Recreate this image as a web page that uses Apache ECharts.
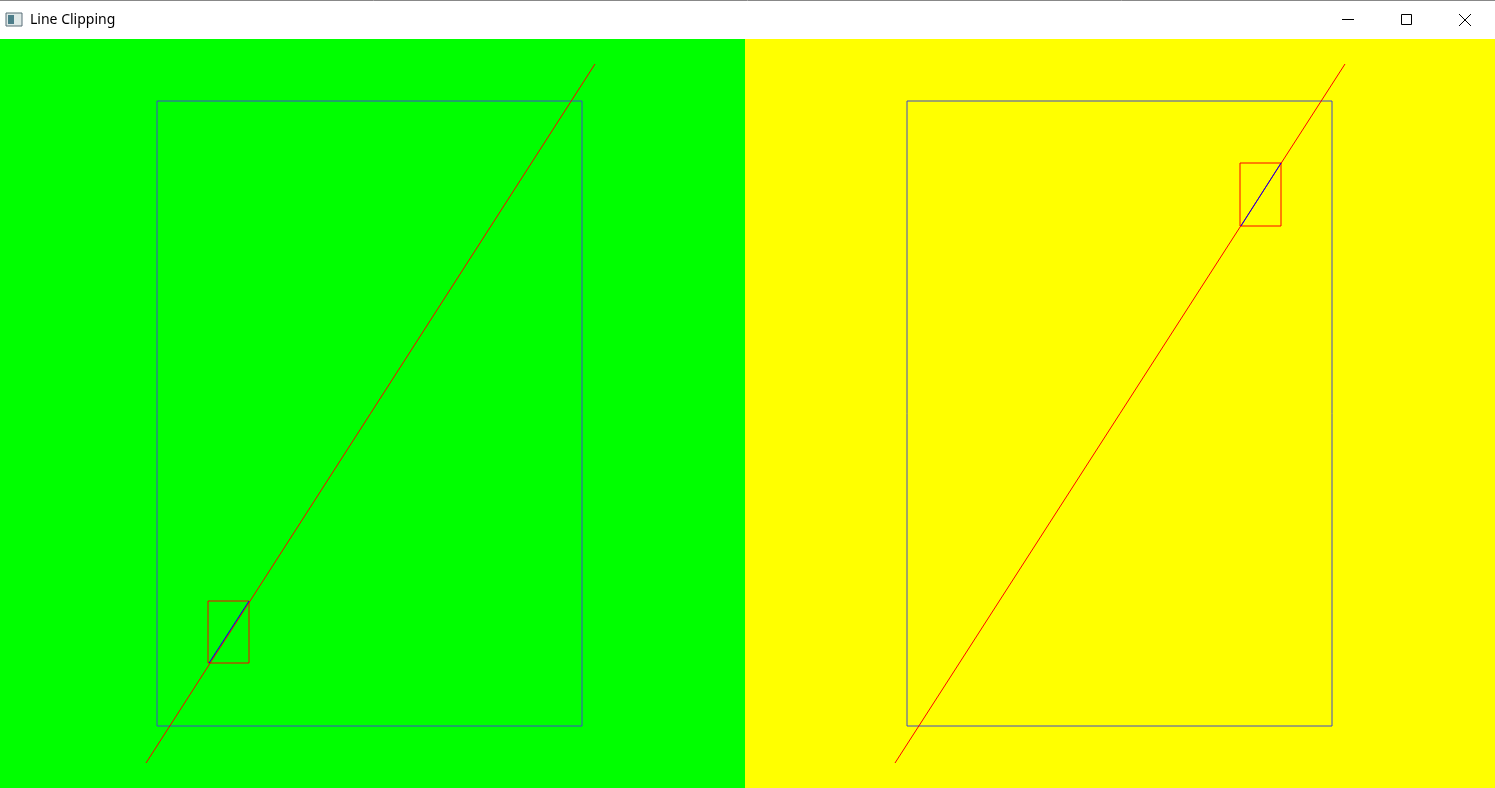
<!DOCTYPE html>
<html><head><meta charset="utf-8">
<script src="https://cdn.jsdelivr.net/npm/echarts@6/dist/echarts.min.js"></script>
<style>html,body{margin:0;padding:0;background:#fff}#c{width:1495px;height:788px}</style>
</head><body><div id="c"></div>
<script>
// Scene data in window pixel units (x right, y down)
const panels = [[0, 39, 745, 788, '#00ff00'], [745, 39, 1495, 788, '#ffff00']];
const outerRects = [[157, 101, 582, 726], [907, 101, 1332, 726]];
const innerRects = [[208, 601, 249, 663], [1240, 163, 1281, 226]];
const redLines = [[[146, 763], [595, 64]], [[895, 763], [1345, 64]]];
const clipped = [[[209, 663], [249, 601]], [[1241, 226], [1281, 163]]];
const titleText = 'Line Clipping';

function rectPath(r) { return [[r[0], r[1]], [r[2], r[1]], [r[2], r[3]], [r[0], r[3]], [r[0], r[1]]]; }
const series = [];
function add(data, color) {
  series.push({type: 'line', data: data, symbol: 'none', silent: true, animation: false,
    lineStyle: {color: color, width: 1}});
}
panels.forEach(p => series.push({type: 'line', data: [], markArea: {silent: true, itemStyle: {color: p[4]},
  data: [[{coord: [p[0], p[1]]}, {coord: [p[2], p[3]]}]]}}));
outerRects.forEach(r => add(rectPath(r), '#3f48cc'));
redLines.forEach(l => add(l, '#ff0000'));
innerRects.forEach(r => add(rectPath(r), '#ff0000'));
clipped.forEach(l => add(l, '#0000ff'));

const chart = echarts.init(document.getElementById('c'));
chart.setOption({
  animation: false,
  grid: {left: 0, right: 0, top: 0, bottom: 0},
  xAxis: {type: 'value', min: 0, max: 1495, show: false},
  yAxis: {type: 'value', min: 0, max: 788, inverse: true, show: false},
  series: series,
  graphic: [
    {type: 'rect', shape: {x: 0, y: 0, width: 1495, height: 39}, style: {fill: '#ffffff'}},
    {type: 'line', shape: {x1: 0, y1: 0.5, x2: 1495, y2: 0.5}, style: {stroke: '#888', lineWidth: 1}},
    {type: 'rect', shape: {x: 6, y: 13, width: 16, height: 13}, style: {fill: '#dfe8e8', stroke: '#5a6e78', lineWidth: 1}},
    {type: 'rect', shape: {x: 8, y: 15, width: 6, height: 9}, style: {fill: '#4d7d8a'}},
    {type: 'text', x: 30, y: 20, style: {text: titleText, font: '14px "Noto Sans"', fill: '#000', verticalAlign: 'middle'}},
    {type: 'line', shape: {x1: 1342, y1: 19.5, x2: 1354, y2: 19.5}, style: {stroke: '#000', lineWidth: 1}},
    {type: 'rect', shape: {x: 1401.5, y: 14.5, width: 10, height: 10}, style: {fill: 'none', stroke: '#000', lineWidth: 1}},
    {type: 'line', shape: {x1: 1459, y1: 14, x2: 1471, y2: 26}, style: {stroke: '#000', lineWidth: 1}},
    {type: 'line', shape: {x1: 1471, y1: 14, x2: 1459, y2: 26}, style: {stroke: '#000', lineWidth: 1}}
  ]
});
</script></body></html>
